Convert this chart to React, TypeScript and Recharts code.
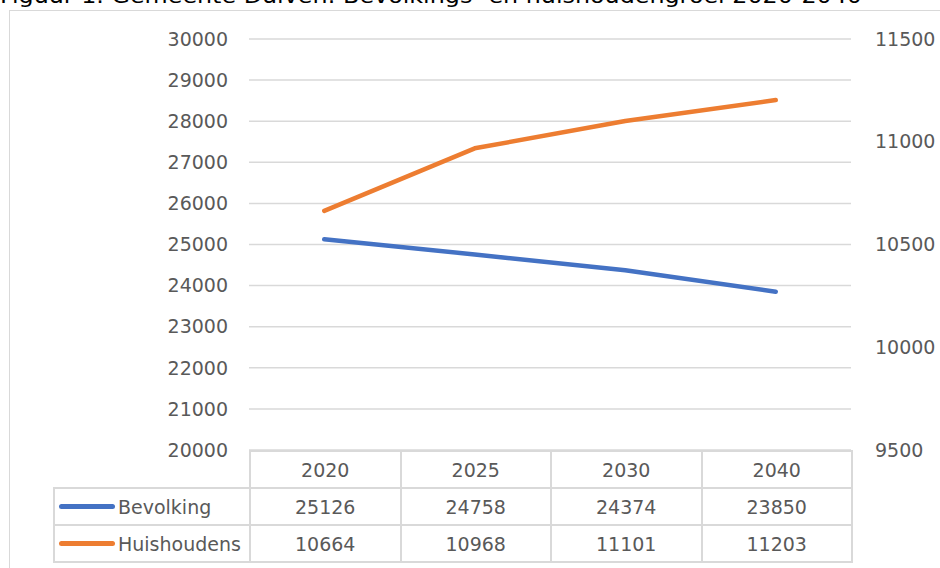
import React from 'react';
import {
  LineChart,
  Line,
  XAxis,
  YAxis,
  CartesianGrid,
} from 'recharts';

const TITLE = 'Figuur 1. Gemeente Duiven: Bevolkings- en huishoudengroei 2020-2040';

const categories = ['2020', '2025', '2030', '2040'];
const bevolking = [25126, 24758, 24374, 23850];
const huishoudens = [10664, 10968, 11101, 11203];

const leftTicks = [20000, 21000, 22000, 23000, 24000, 25000, 26000, 27000, 28000, 29000, 30000];
const rightTicks = [9500, 10000, 10500, 11000, 11500];

const series = [
  { key: 'Bevolking', values: bevolking, color: '#4472C4', axis: 'left' },
  { key: 'Huishoudens', values: huishoudens, color: '#ED7D31', axis: 'right' },
];

const FONT = '"DejaVu Sans", sans-serif';
const TEXT = '#595959';
const GRID = '#d9d9d9';

// plot box (Excel layout)
const W = 940;
const H = 568;
const PLOT_LEFT = 249;
const PLOT_RIGHT = 851;
const PLOT_TOP = 39;
const PLOT_BOTTOM = 450;
const TABLE_LEFT = 53;

export default function App() {
  const chartData = categories.map((year, i) => ({
    year,
    Bevolking: bevolking[i],
    Huishoudens: huishoudens[i],
  }));

  const colW = (PLOT_RIGHT - PLOT_LEFT) / categories.length;
  const cell: React.CSSProperties = {
    border: `2px solid ${GRID}`,
    textAlign: 'center',
    padding: 0,
  };

  return (
    <div
      style={{
        position: 'fixed',
        left: 0,
        top: 0,
        width: W,
        height: H,
        overflow: 'hidden',
        background: '#fff',
        fontFamily: FONT,
      }}
    >
      <svg width={W} height={20} style={{ position: 'absolute', left: 0, top: 0 }}>
        <text
          x={0}
          y={3}
          fontSize={21}
          fill="#000"
          fontFamily={FONT}
          textLength={862}
          lengthAdjust="spacingAndGlyphs"
        >
          {TITLE}
        </text>
      </svg>

      {/* chart frame */}
      <div
        style={{
          position: 'absolute',
          left: 9,
          top: 10,
          width: 1000,
          height: 1000,
          border: `1.5px solid ${GRID}`,
        }}
      />

      <div style={{ position: 'absolute', left: 0, top: 0 }}>
        <LineChart
          width={W}
          height={H}
          data={chartData}
          margin={{ top: PLOT_TOP, right: 0, left: 0, bottom: H - PLOT_BOTTOM }}
        >
          <CartesianGrid vertical={false} stroke={GRID} strokeWidth={1.5} yAxisId="left" />
          <XAxis
            dataKey="year"
            hide
            padding={{ left: colW / 2, right: colW / 2 }}
          />
          <YAxis
            yAxisId="left"
            orientation="left"
            width={PLOT_LEFT}
            domain={[20000, 30000]}
            ticks={leftTicks}
            interval={0}
            axisLine={false}
            tickLine={false}
            tickSize={0}
            tickMargin={21}
            tick={{ fill: TEXT, fontSize: 19, fontFamily: FONT }}
          />
          <YAxis
            yAxisId="right"
            orientation="right"
            width={W - PLOT_RIGHT}
            domain={[9500, 11500]}
            ticks={rightTicks}
            interval={0}
            axisLine={false}
            tickLine={false}
            tickSize={0}
            tickMargin={24}
            tick={{ fill: TEXT, fontSize: 19, fontFamily: FONT, textAnchor: 'start' }}
          />
          {series.map((s) => (
            <Line
              key={s.key}
              yAxisId={s.axis}
              dataKey={s.key}
              stroke={s.color}
              strokeWidth={4.5}
              strokeLinecap="round"
              strokeLinejoin="round"
              dot={false}
              activeDot={false}
              isAnimationActive={false}
            />
          ))}
        </LineChart>
      </div>

      {/* data table under the plot */}
      <table
        style={{
          position: 'absolute',
          left: TABLE_LEFT,
          top: PLOT_BOTTOM,
          width: PLOT_RIGHT - TABLE_LEFT,
          borderCollapse: 'collapse',
          tableLayout: 'fixed',
          fontSize: 19,
          color: TEXT,
          fontFamily: FONT,
        }}
      >
        <colgroup>
          <col style={{ width: PLOT_LEFT - TABLE_LEFT }} />
          {categories.map((c) => (
            <col key={c} style={{ width: colW }} />
          ))}
        </colgroup>
        <tbody>
          <tr style={{ height: 37 }}>
            <td style={{ padding: 0, border: 'none' }} />
            {categories.map((c) => (
              <td key={c} style={cell}>
                {c}
              </td>
            ))}
          </tr>
          {series.map((s) => (
            <tr key={s.key} style={{ height: 37 }}>
              <td
                style={{
                  border: `2px solid ${GRID}`,
                  padding: 0,
                  whiteSpace: 'nowrap',
                }}
              >
                <div style={{ display: 'flex', alignItems: 'center' }}>
                  <div
                    style={{
                      width: 56,
                      height: 5,
                      borderRadius: 3,
                      background: s.color,
                      marginLeft: 4,
                      marginRight: 3,
                    }}
                  />
                  <span>{s.key}</span>
                </div>
              </td>
              {s.values.map((v, i) => (
                <td key={categories[i]} style={cell}>
                  {v}
                </td>
              ))}
            </tr>
          ))}
        </tbody>
      </table>
    </div>
  );
}
